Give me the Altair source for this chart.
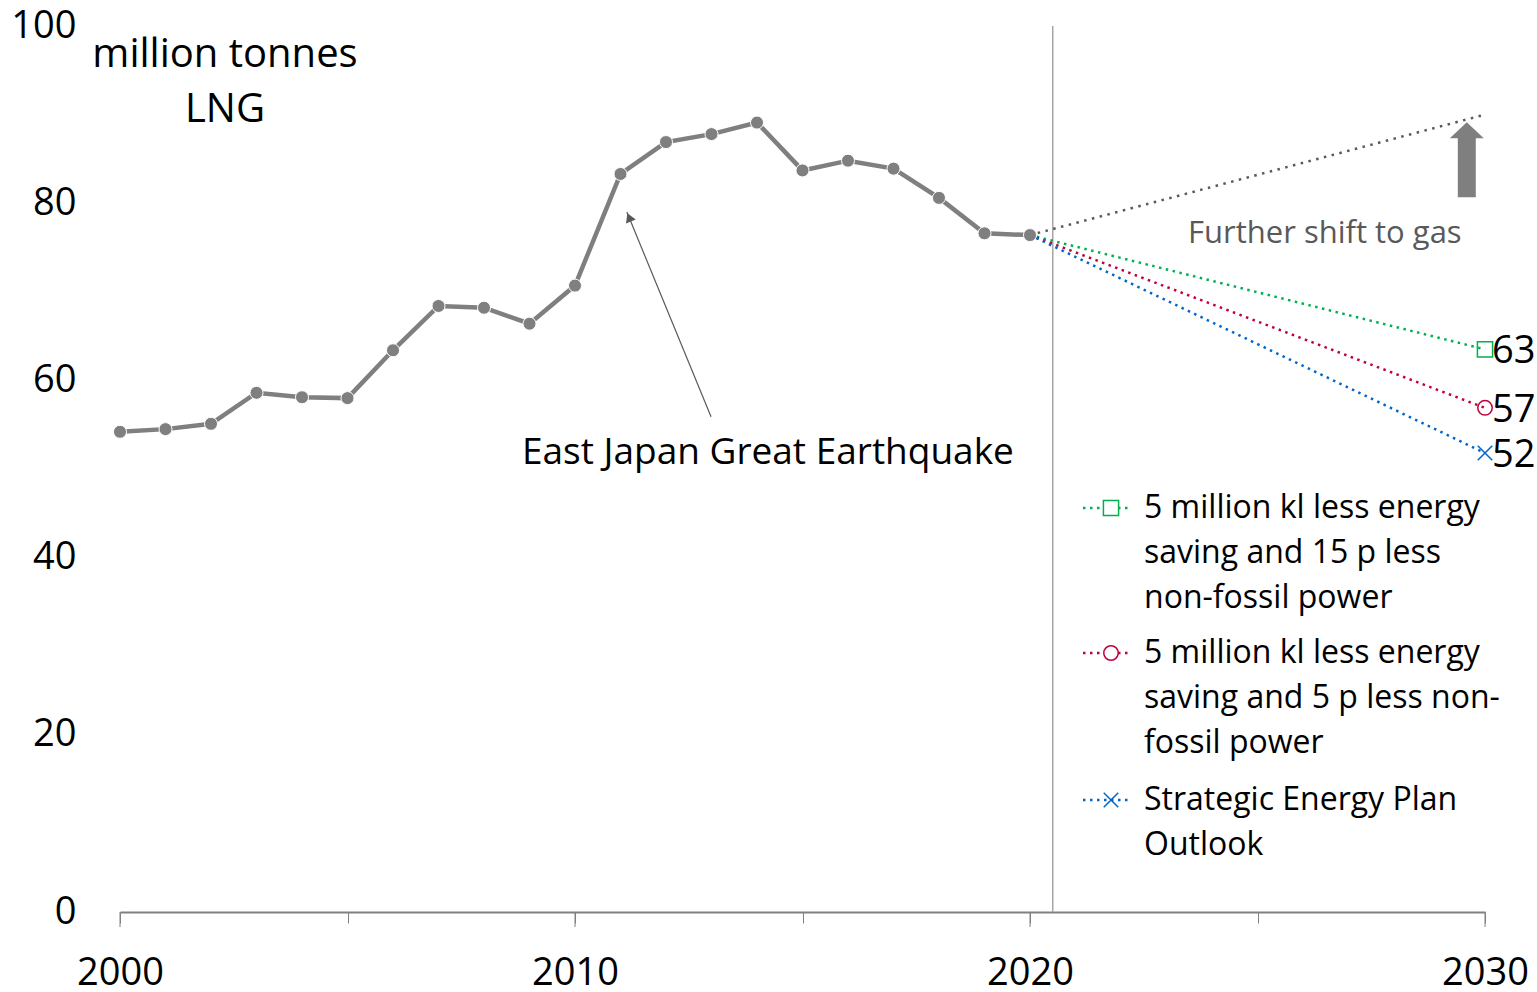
import altair as alt
import pandas as pd

FONT = "Open Sans"

# ---- data ----
years = list(range(2000, 2021))
lng = [54.2, 54.5, 55.1, 58.6, 58.1, 58.0, 63.4, 68.4, 68.2, 66.4, 70.7,
       83.3, 86.9, 87.8, 89.1, 83.7, 84.8, 83.9, 80.6, 76.6, 76.4]

scen_names = ["5 million kl less energy\nsaving and 15 p less\nnon-fossil power",
              "5 million kl less energy\nsaving and 5 p less non-\nfossil power",
              "Strategic Energy Plan\nOutlook"]
scen_2030 = [63.5, 56.9, 51.8]
scen_labels = ["63", "57", "52"]
scen_colors = ["#00b050", "#c0003c", "#0066cc"]
scen_shapes = ["square", "circle", "M-1,-1L1,1M-1,1L1,-1"]
scen_sizes = [230, 210, 210]

major_ticks = [2000, 2010, 2020, 2030]

gas_2030 = 90.0
start_year, end_year = 2020, 2030
divider_x = 2020.5

quake_from = (2012.99, 55.9)
quake_to = (2011.14, 79.0)
quake_text_pos = (2014.24, 51.8)
gas_text_pos = (2026.48, 76.5)
big_arrow_pos = (2029.6, 84.9)

W, H = 1365, 886
xs = alt.Scale(domain=[2000, 2030], nice=False, zero=False)
ys = alt.Scale(domain=[0, 100], nice=False)

hist = pd.DataFrame({"year": years, "v": lng})

base_x = alt.X("year:Q", scale=xs,
               axis=alt.Axis(values=list(range(2000, 2031, 5)), title=None,
                             grid=False, domainColor="#808080", domainWidth=2,
                             tickColor="#808080", tickSize=11, tickWidth=1,
                             labelExpr="datum.value % 10 == 0 ? datum.value : ''",
                             labelFont=FONT, labelFontSize=38, labelColor="#000",
                             labelPadding=31, labelFlush=False, labelOverlap=False))
base_y = alt.Y("v:Q", scale=ys,
               axis=alt.Axis(values=[0, 20, 40, 60, 80, 100], title=None, grid=False,
                             domain=False, ticks=False, labelFont=FONT,
                             labelFontSize=38, labelColor="#000", labelPadding=44,
                             labelBaseline="middle"))

axes_layer = alt.Chart(hist).mark_line(opacity=0).encode(x=base_x, y=base_y)

major = alt.Chart(pd.DataFrame({"year": major_ticks})).mark_rule(
    color="#808080", strokeWidth=1).encode(x=alt.X("year:Q", scale=xs),
                                           y=alt.value(H), y2=alt.value(H + 15))

divider = alt.Chart(pd.DataFrame({"year": [divider_x]})).mark_rule(
    color="#a6a6a6", strokeWidth=1.5).encode(x=alt.X("year:Q", scale=xs),
                                            y=alt.value(0), y2=alt.value(H))

layers = []
gas_df = pd.DataFrame({"year": [start_year, end_year], "v": [lng[-1], gas_2030]})
layers.append(alt.Chart(gas_df).mark_line(color="#595959", strokeWidth=2.5,
                                           strokeDash=[2.5, 5.5]).encode(
    x=alt.X("year:Q", scale=xs), y=alt.Y("v:Q", scale=ys)))
for i in range(3):
    d = pd.DataFrame({"year": [start_year, end_year], "v": [lng[-1], scen_2030[i]]})
    layers.append(alt.Chart(d).mark_line(color=scen_colors[i], strokeWidth=2.5,
                                          strokeDash=[2.5, 4.5]).encode(
        x=alt.X("year:Q", scale=xs), y=alt.Y("v:Q", scale=ys)))
    e = pd.DataFrame({"year": [end_year], "v": [scen_2030[i]], "t": [scen_labels[i]]})
    layers.append(alt.Chart(e).mark_point(shape=scen_shapes[i], filled=False,
                                           color=scen_colors[i], strokeWidth=1.5,
                                           size=scen_sizes[i], opacity=1).encode(
        x=alt.X("year:Q", scale=xs), y=alt.Y("v:Q", scale=ys)))
    layers.append(alt.Chart(e).mark_text(align="left", baseline="middle", dx=7, dy=3,
                                          font=FONT, fontSize=38, color="#000").encode(
        x=alt.X("year:Q", scale=xs), y=alt.Y("v:Q", scale=ys), text="t:N"))

hist_line = alt.Chart(hist).mark_line(color="#7f7f7f", strokeWidth=4.5).encode(
    x=alt.X("year:Q", scale=xs), y=alt.Y("v:Q", scale=ys))
hist_pts = alt.Chart(hist).mark_point(filled=True, color="#7f7f7f", size=170,
                                      stroke="white", strokeWidth=1, opacity=1).encode(
    x=alt.X("year:Q", scale=xs), y=alt.Y("v:Q", scale=ys))

# earthquake annotation
arr = pd.DataFrame({"year": [quake_from[0]], "v": [quake_from[1]],
                    "year2": [quake_to[0]], "v2": [quake_to[1]]})
quake_line = alt.Chart(arr).mark_rule(color="#595959", strokeWidth=1.2).encode(
    x=alt.X("year:Q", scale=xs), y=alt.Y("v:Q", scale=ys), x2="year2:Q", y2="v2:Q")
head = pd.DataFrame({"year": [quake_to[0] + 0.05], "v": [quake_to[1] - 0.6]})
quake_head = alt.Chart(head).mark_point(shape="triangle-up", filled=True, color="#595959",
                                        size=110, angle=338, opacity=1).encode(
    x=alt.X("year:Q", scale=xs), y=alt.Y("v:Q", scale=ys))
qt = pd.DataFrame({"year": [quake_text_pos[0]], "v": [quake_text_pos[1]],
                   "t": ["East Japan Great Earthquake"]})
quake_text = alt.Chart(qt).mark_text(font=FONT, fontSize=37, color="#000",
                                     align="center", baseline="middle").encode(
    x=alt.X("year:Q", scale=xs), y=alt.Y("v:Q", scale=ys), text="t:N")

# further shift to gas
gt = pd.DataFrame({"year": [gas_text_pos[0]], "v": [gas_text_pos[1]],
                   "t": ["Further shift to gas"]})
gas_text = alt.Chart(gt).mark_text(font=FONT, fontSize=31, color="#595959",
                                   align="center", baseline="middle").encode(
    x=alt.X("year:Q", scale=xs), y=alt.Y("v:Q", scale=ys), text="t:N")
ba = pd.DataFrame({"year": [big_arrow_pos[0]], "v": [big_arrow_pos[1]]})
big_arrow = alt.Chart(ba).mark_point(
    shape="M-0.24,1L-0.24,-0.573L-0.453,-0.573L0,-1L0.453,-0.573L0.24,-0.573L0.24,1Z",
    filled=True, color="#7f7f7f", size=5625, opacity=1).encode(
    x=alt.X("year:Q", scale=xs), y=alt.Y("v:Q", scale=ys))

# unit title
ut = pd.DataFrame({"t": ["million tonnes\nLNG"]})
unit_text = alt.Chart(ut).mark_text(font=FONT, fontSize=40, color="#000", align="center",
                                    baseline="middle", lineBreak="\n", lineHeight=55).encode(
    x=alt.value(105), y=alt.value(29), text="t:N")

# legend
leg_layers = []
leg_top = [482, 627, 774]
for i in range(3):
    y0 = leg_top[i]
    dd = pd.DataFrame({"t": [scen_names[i]]})
    leg_layers.append(alt.Chart(dd).mark_rule(color=scen_colors[i], strokeWidth=2.5,
                                              strokeDash=[2.5, 4.5]).encode(
        x=alt.value(963), x2=alt.value(1012), y=alt.value(y0)))
    leg_layers.append(alt.Chart(dd).mark_point(shape=scen_shapes[i], filled=True,
                                               fill="white", stroke=scen_colors[i],
                                               strokeWidth=1.5, size=scen_sizes[i],
                                               opacity=1).encode(
        x=alt.value(991), y=alt.value(y0)))
    leg_layers.append(alt.Chart(dd).mark_text(font=FONT, fontSize=32, color="#000",
                                              align="left", baseline="middle",
                                              lineBreak="\n", lineHeight=45).encode(
        x=alt.value(1024), y=alt.value(y0), text="t:N"))

chart = alt.layer(axes_layer, major, divider, *layers, hist_line, hist_pts, quake_line,
                  quake_head, quake_text, gas_text, big_arrow, unit_text,
                  *leg_layers).properties(
    width=W, height=H,
    autosize=alt.AutoSizeParams(type="none"),
    padding={"left": 120, "top": 26, "right": 52, "bottom": 80},
).configure(background="white").configure_view(stroke=None)

chart.save("out.html", embed_options={"renderer": "svg", "actions": False})
